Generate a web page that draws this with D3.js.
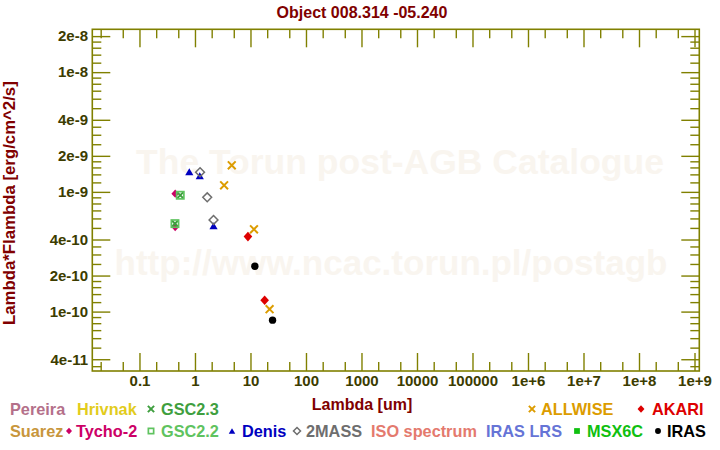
<!DOCTYPE html>
<html><head><meta charset="utf-8">
<script src="https://cdn.jsdelivr.net/npm/d3@7"></script>
<style>
body{margin:0;background:#fff}
svg{display:block}
text{font-family:"Liberation Sans",Arial,Helvetica,sans-serif;font-weight:bold}
</style>
</head><body>
<svg id="chart" width="720" height="450"></svg>
<script>
// ---------------- data ----------------
const chartTitle = "Object 008.314 -05.240";
const xTitle = "Lambda [um]";
const yTitle = "Lambda*Flambda [erg/cm^2/s]";
const watermark1 = "The Torun post-AGB Catalogue";
const watermark2 = "http://www.ncac.torun.pl/postagb";

const xTickValues = [0.1, 1, 10, 100, 1000, 1e4, 1e5, 1e6, 1e7, 1e8, 1e9];
const xTickLabels = ["0.1", "1", "10", "100", "1000", "10000", "100000", "1e+6", "1e+7", "1e+8", "1e+9"];
const yTickValues = [2e-8, 1e-8, 4e-9, 2e-9, 1e-9, 4e-10, 2e-10, 1e-10, 4e-11];
const yTickLabels = ["2e-8", "1e-8", "4e-9", "2e-9", "1e-9", "4e-10", "2e-10", "1e-10", "4e-11"];

const tychoLambda = [0.44, 0.44];
const tychoFlux = [9.66e-10, 5.09e-10];
const gsc23Lambda = [0.543, 0.436];
const gsc23Flux = [9.37e-10, 5.43e-10];
const gsc22Lambda = [0.543, 0.436];
const gsc22Flux = [9.37e-10, 5.43e-10];
const denisLambda = [0.79, 1.22, 2.16];
const denisFlux = [1.475e-9, 1.365e-9, 5.22e-10];
const twomassLambda = [1.235, 1.662, 2.159];
const twomassFlux = [1.46e-9, 9.01e-10, 5.83e-10];
const allwiseLambda = [3.35, 4.6, 11.56, 22.09];
const allwiseFlux = [1.135e-9, 1.667e-9, 4.87e-10, 1.047e-10];
const akariLambda = [9, 18];
const akariFlux = [4.23e-10, 1.245e-10];
const irasLambda = [12, 25];
const irasFlux = [2.39e-10, 8.48e-11];

const legendRow1 = ["Pereira", "Hrivnak", "GSC2.3", "ALLWISE", "AKARI"];
const legendRow2 = ["Suarez", "Tycho-2", "GSC2.2", "Denis", "2MASS", "ISO spectrum", "IRAS LRS", "MSX6C", "IRAS"];

// ---------------- styles / layout ----------------
const catStyle = {
  "Pereira":      {color: "#b4708a", sym: null},
  "Hrivnak":      {color: "#e2cc1c", sym: null},
  "GSC2.3":       {color: "#3f9f3f", sym: "x"},
  "Suarez":       {color: "#c8963c", sym: null},
  "Tycho-2":      {color: "#cc0066", sym: "diamond"},
  "GSC2.2":       {color: "#5fc35f", sym: "square"},
  "Denis":        {color: "#0000c0", sym: "triangle"},
  "2MASS":        {color: "#6e6e6e", sym: "odiamond"},
  "ISO spectrum": {color: "#e47a6e", sym: null},
  "IRAS LRS":     {color: "#6674d6", sym: null},
  "MSX6C":        {color: "#10c010", sym: "fsquare"},
  "IRAS":         {color: "#000000", sym: "circle"},
  "ALLWISE":      {color: "#dc9c00", sym: "x"},
  "AKARI":        {color: "#dd0000", sym: "bdiamond"}
};
const legendPos1 = [{tx: 10}, {tx: 77}, {sx: 151, tx: 161}, {sx: 532, tx: 541}, {sx: 641, tx: 652}];
const legendPos2 = [{tx: 10}, {sx: 69, tx: 76}, {sx: 151, tx: 161}, {sx: 232, tx: 242}, {sx: 297, tx: 306},
                    {tx: 371}, {tx: 486}, {sx: 577, tx: 587}, {sx: 658, tx: 667}];

const L = 92.3, R = 699.3, T = 29.3, B = 371;
const olive = "#808000", labelCol = "#3c3c00", maroon = "#800000";

const svg = d3.select("#chart");
const x = d3.scaleLog().domain([0.01413, 1.22e9]).range([L, R]);
const y = d3.scaleLog().domain([2.28e-8, 3.19e-11]).range([T, B]);

// watermark
svg.append("text").attr("x", 400).attr("y", 174).attr("text-anchor", "middle")
  .attr("font-size", 35.5).attr("fill", "#f9f5ef").text(watermark1);
svg.append("text").attr("x", 391).attr("y", 275).attr("text-anchor", "middle")
  .attr("font-size", 35).attr("fill", "#f9f5ef").text(watermark2);

// ticks
const xMinor = [];
for (let e = -2; e <= 9; e++) [2, 5].forEach(m => { const v = m * Math.pow(10, e); if (v > 0.01413 && v < 1.22e9) xMinor.push(v); });
const yMinor = [];
for (let e = -11; e <= -8; e++) [1.2, 1.4, 1.6, 1.8, 2.5, 3, 3.5, 5, 6, 7, 8, 9].forEach(m => {
  const v = m * Math.pow(10, e); if (v > 3.19e-11 && v < 2.28e-8) yMinor.push(v); });

function styleAxis(g) {
  g.select(".domain").remove();
  g.selectAll(".tick line").attr("stroke", olive).attr("stroke-width", 1.4);
  g.selectAll(".tick text").attr("fill", labelCol).attr("font-size", 15)
    .attr("font-family", "Liberation Sans, Arial, sans-serif").attr("font-weight", "bold");
}
const LONG = 18, SHORT = 9;
// bottom
svg.append("g").attr("transform", `translate(0,${B})`)
  .call(d3.axisBottom(x).tickValues(xTickValues).tickFormat((d, i) => xTickLabels[i]).tickSizeInner(-LONG).tickSizeOuter(0).tickPadding(4.5))
  .call(styleAxis);
svg.append("g").attr("transform", `translate(0,${B})`)
  .call(d3.axisBottom(x).tickValues(xMinor).tickFormat("").tickSizeInner(-SHORT).tickSizeOuter(0)).call(styleAxis);
// top
svg.append("g").attr("transform", `translate(0,${T})`)
  .call(d3.axisTop(x).tickValues(xTickValues).tickFormat("").tickSizeInner(-LONG).tickSizeOuter(0)).call(styleAxis);
svg.append("g").attr("transform", `translate(0,${T})`)
  .call(d3.axisTop(x).tickValues(xMinor).tickFormat("").tickSizeInner(-SHORT).tickSizeOuter(0)).call(styleAxis);
// left
svg.append("g").attr("transform", `translate(${L},0)`)
  .call(d3.axisLeft(y).tickValues(yTickValues).tickFormat((d, i) => yTickLabels[i]).tickSizeInner(-LONG).tickSizeOuter(0).tickPadding(4.3))
  .call(styleAxis);
svg.append("g").attr("transform", `translate(${L},0)`)
  .call(d3.axisLeft(y).tickValues(yMinor).tickFormat("").tickSizeInner(-SHORT).tickSizeOuter(0)).call(styleAxis);
// right
svg.append("g").attr("transform", `translate(${R},0)`)
  .call(d3.axisRight(y).tickValues(yTickValues).tickFormat("").tickSizeInner(-LONG).tickSizeOuter(0)).call(styleAxis);
svg.append("g").attr("transform", `translate(${R},0)`)
  .call(d3.axisRight(y).tickValues(yMinor).tickFormat("").tickSizeInner(-SHORT).tickSizeOuter(0)).call(styleAxis);

// frame
svg.append("rect").attr("x", L).attr("y", T).attr("width", R - L).attr("height", B - T)
  .attr("fill", "none").attr("stroke", olive).attr("stroke-width", 1.6);

// titles
svg.append("text").attr("x", 362).attr("y", 18).attr("text-anchor", "middle")
  .attr("font-size", 16).attr("fill", maroon).text(chartTitle);
svg.append("text").attr("x", 362).attr("y", 410).attr("text-anchor", "middle")
  .attr("font-size", 16).attr("fill", maroon).text(xTitle);
svg.append("text").attr("transform", `translate(15,${(T + B) / 2 + 3}) rotate(-90)`).attr("text-anchor", "middle")
  .attr("font-size", 16.8).attr("fill", maroon).text(yTitle);

// marker drawing
function drawSym(g, sym, cx, cy, color, s) {
  s = s || 1;
  if (sym === "x") {
    const h = 3.9 * s;
    g.append("path").attr("d", `M${cx - h},${cy - h}L${cx + h},${cy + h}M${cx - h},${cy + h}L${cx + h},${cy - h}`)
      .attr("stroke", color).attr("stroke-width", 2).attr("fill", "none");
  } else if (sym === "diamond") {
    const h = 4.2 * s;
    g.append("path").attr("d", `M${cx},${cy - h}L${cx + h * 0.9},${cy}L${cx},${cy + h}L${cx - h * 0.9},${cy}Z`).attr("fill", color);
  } else if (sym === "bdiamond") {
    const h = 4.8 * s;
    g.append("path").attr("d", `M${cx},${cy - h}L${cx + h * 0.9},${cy}L${cx},${cy + h}L${cx - h * 0.9},${cy}Z`).attr("fill", color);
  } else if (sym === "odiamond") {
    const h = 4.4 * s;
    g.append("path").attr("d", `M${cx},${cy - h}L${cx + h},${cy}L${cx},${cy + h}L${cx - h},${cy}Z`)
      .attr("fill", "none").attr("stroke", color).attr("stroke-width", 1.5);
  } else if (sym === "square") {
    const h = 3.3 * s;
    g.append("rect").attr("x", cx - h).attr("y", cy - h).attr("width", 2 * h).attr("height", 2 * h)
      .attr("fill", "none").attr("stroke", color).attr("stroke-width", 1.7);
  } else if (sym === "fsquare") {
    const h = 3.6 * s;
    g.append("rect").attr("x", cx - h).attr("y", cy - h).attr("width", 2 * h).attr("height", 2 * h).attr("fill", color);
  } else if (sym === "triangle") {
    const w = 4.1 * s, h = 3.5 * s;
    g.append("path").attr("d", `M${cx},${cy - h}L${cx + w},${cy + h}L${cx - w},${cy + h}Z`).attr("fill", color);
  } else if (sym === "circle") {
    g.append("circle").attr("cx", cx).attr("cy", cy).attr("r", 3.7 * s).attr("fill", color);
  }
}

const series = [
  ["Tycho-2", tychoLambda, tychoFlux],
  ["GSC2.3", gsc23Lambda, gsc23Flux],
  ["GSC2.2", gsc22Lambda, gsc22Flux],
  ["Denis", denisLambda, denisFlux],
  ["2MASS", twomassLambda, twomassFlux],
  ["IRAS", irasLambda, irasFlux],
  ["ALLWISE", allwiseLambda, allwiseFlux],
  ["AKARI", akariLambda, akariFlux]
];
const gp = svg.append("g");
series.forEach(([name, lx, fy]) => {
  const st = catStyle[name];
  lx.forEach((lv, i) => {
    const s = name === "GSC2.2" ? 1.1 : (name === "GSC2.3" ? 0.8 : 1);
    drawSym(gp, st.sym, x(lv), y(fy[i]), st.color, s);
  });
});

// legend
const gl = svg.append("g");
function legendRow(names, pos, baseline) {
  names.forEach((n, i) => {
    const st = catStyle[n], p = pos[i];
    if (st.sym && p.sx !== undefined) drawSym(gl, st.sym, p.sx, baseline - 6, st.color, 0.8);
    gl.append("text").attr("x", p.tx).attr("y", baseline).attr("font-size", 16.3).attr("fill", st.color).text(n);
  });
}
legendRow(legendRow1, legendPos1, 415);
legendRow(legendRow2, legendPos2, 437);
</script>
</body></html>
